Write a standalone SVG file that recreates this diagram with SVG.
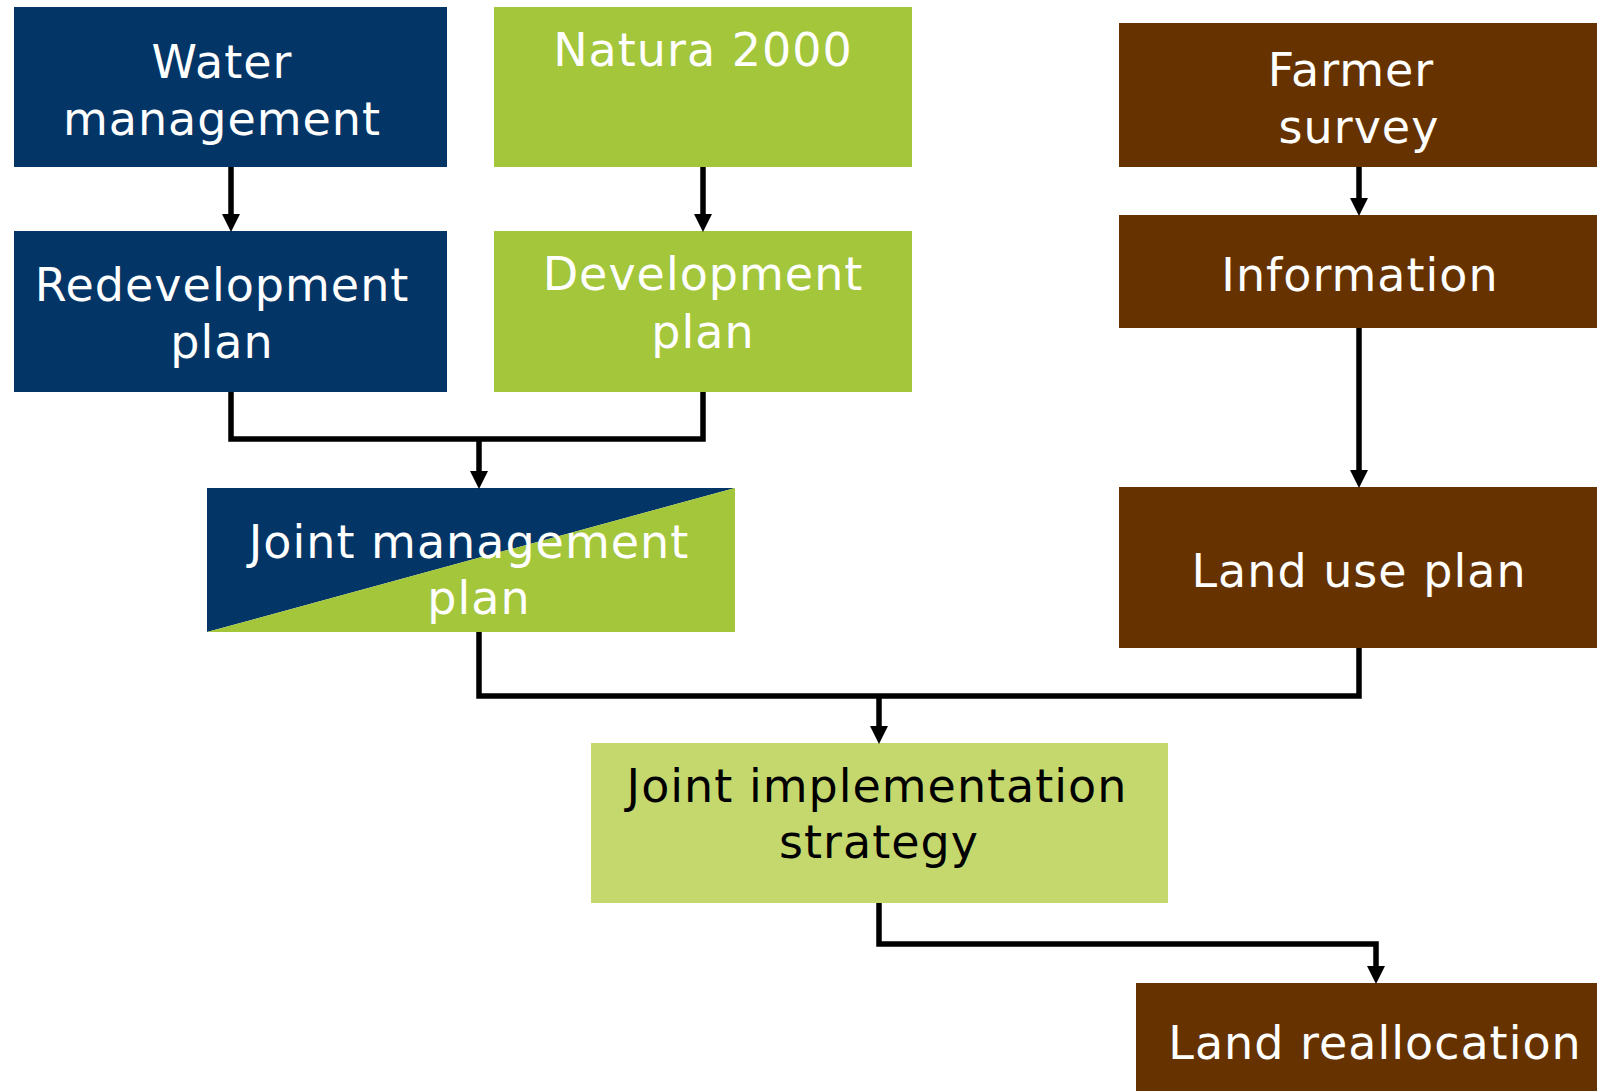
<svg xmlns="http://www.w3.org/2000/svg" width="1597" height="1091" viewBox="0 0 1597 1091">
<style>
text{font-family:"DejaVu Sans","Verdana",sans-serif;font-size:46px;text-anchor:middle;letter-spacing:1px}
.w{fill:#ffffff}
.k{fill:#000000}
.navy{fill:#033567}
.green{fill:#A3C63B}
.light{fill:#C5D86E}
.brown{fill:#663300}
.con{fill:none;stroke:#000;stroke-width:5.5;stroke-linejoin:miter}
</style>
<defs>
<marker id="ah" markerUnits="userSpaceOnUse" markerWidth="18" markerHeight="18" refX="0" refY="8.5" orient="auto" viewBox="0 0 17 17">
<path d="M0,0 L17,8.5 L0,17 z" fill="#000"/>
</marker>
</defs>
<rect width="1597" height="1091" fill="#fff"/>
<g id="water-management">
<rect class="navy" x="14" y="7" width="433" height="160"/>
<text class="w" x="222" y="78">Water</text>
<text class="w" x="222" y="135">management</text>
</g>
<g id="natura-2000">
<rect class="green" x="494" y="7" width="418" height="160"/>
<text class="w" x="703" y="66">Natura 2000</text>
</g>
<g id="farmer-survey">
<rect class="brown" x="1119" y="23" width="478" height="144"/>
<text class="w" x="1351" y="86">Farmer</text>
<text class="w" x="1359" y="143">survey</text>
</g>
<g id="redevelopment-plan">
<rect class="navy" x="14" y="231" width="433" height="161"/>
<text class="w" x="222" y="301">Redevelopment</text>
<text class="w" x="222" y="358">plan</text>
</g>
<g id="development-plan">
<rect class="green" x="494" y="231" width="418" height="161"/>
<text class="w" x="703" y="290">Development</text>
<text class="w" x="703" y="348">plan</text>
</g>
<g id="information">
<rect class="brown" x="1119" y="215" width="478" height="113"/>
<text class="w" x="1360" y="291">Information</text>
</g>
<g id="joint-management-plan">
<polygon class="navy" points="207,488 735,488 207,632"/>
<polygon class="green" points="735,488 735,632 207,632"/>
<text class="w" x="469" y="558">Joint management</text>
<text class="w" x="479" y="614">plan</text>
</g>
<g id="land-use-plan">
<rect class="brown" x="1119" y="487" width="478" height="161"/>
<text class="w" x="1359" y="587">Land use plan</text>
</g>
<g id="joint-implementation-strategy">
<rect class="light" x="591" y="743" width="577" height="160"/>
<text class="k" x="877" y="802">Joint implementation</text>
<text class="k" x="879" y="858">strategy</text>
</g>
<g id="land-reallocation">
<rect class="brown" x="1136" y="983" width="461" height="108"/>
<text class="w" x="1375" y="1059">Land reallocation</text>
</g>
<g id="connectors">
<path class="con" d="M231,167 V214" marker-end="url(#ah)"/>
<path class="con" d="M703,167 V214" marker-end="url(#ah)"/>
<path class="con" d="M231,392 V439 H703 V392"/>
<path class="con" d="M479,439 V471" marker-end="url(#ah)"/>
<path class="con" d="M1359,167 V198" marker-end="url(#ah)"/>
<path class="con" d="M1359,328 V470" marker-end="url(#ah)"/>
<path class="con" d="M479,632 V696 H1359 V648"/>
<path class="con" d="M879,696 V726" marker-end="url(#ah)"/>
<path class="con" d="M879,903 V944 H1376 V966" marker-end="url(#ah)"/>
</g>
</svg>
